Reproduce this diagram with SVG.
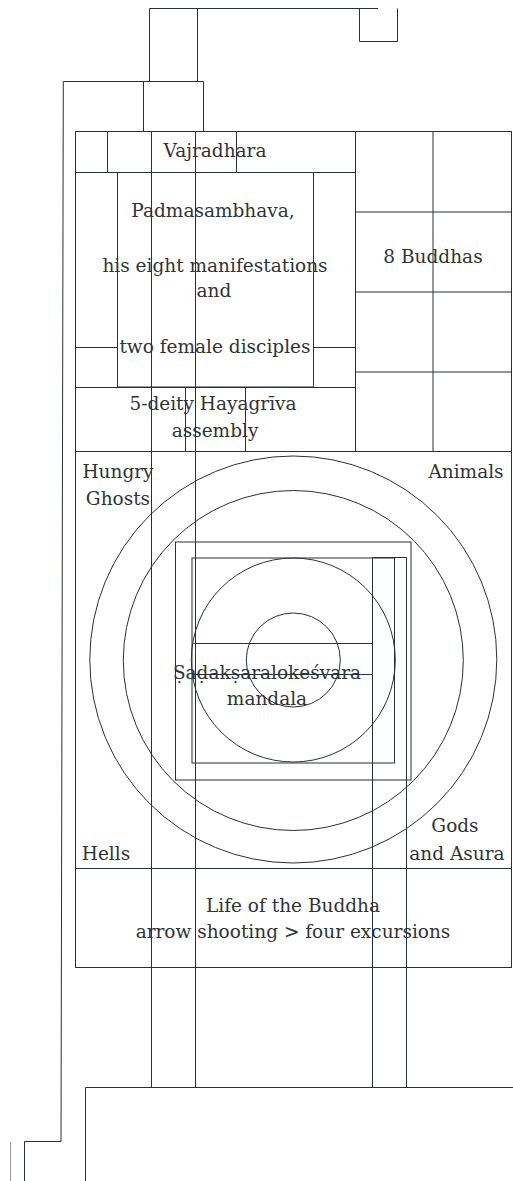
<svg xmlns="http://www.w3.org/2000/svg" width="513" height="1181" viewBox="0 0 513 1181">
<style>
.l{fill:none;stroke:#2a3136;stroke-width:1}
.t{font-family:"DejaVu Serif","Liberation Serif",serif;font-size:18.5px;fill:#2f3336;text-anchor:middle}
</style>
<rect width="513" height="1181" fill="#fff"/>
<g id="frame" class="l">
<path d="M149.5,81V8.5H378"/>
<path d="M197.5,8.5V81"/>
<path d="M359.5,8.5V41.5H397.5V8.5"/>
<path d="M63.3,81.5L61,1141.5H24.5V1181"/>
<path d="M10.5,1142V1181" stroke="#999"/>
<path d="M63.5,81.5H203.5V131.5"/>
<path d="M143.5,81.5V131.5"/>
<path d="M85.5,1181V1087.5H513"/>
<path d="M151.5,131V1087.5"/>
<path d="M195.5,131V1087.5"/>
<path d="M372.5,557.5H406.5V1087.5M372.5,557.5V1087.5"/>
</g>
<g id="main" class="l">
<rect x="75.5" y="131.5" width="436" height="836"/>
</g>
<g id="vajradhara">
<path class="l" d="M75.5,172.5H355.5M107.5,131.5V172.5M236.5,131.5V172.5"/>
<text class="t" x="215" y="157">Vajradhara</text>
</g>
<g id="padmasambhava">
<rect class="l" x="117.5" y="172.5" width="196" height="214.5"/>
<path class="l" d="M75.5,347.5H117.5M313.5,347.5H355.5"/>
<text class="t" x="213" y="217">Padmasambhava,</text>
<text class="t" x="215" y="272">his eight manifestations</text>
<text class="t" x="214" y="297">and</text>
<text class="t" x="215" y="353">two female disciples</text>
</g>
<g id="hayagriva">
<path class="l" d="M75.5,387.5H355.5M185.5,387.5V451.5M245.5,387.5V451.5M75.5,451.5H511.5"/>
<text class="t" x="213" y="410">5-deity Hayagrīva</text>
<text class="t" x="215" y="437">assembly</text>
</g>
<g id="buddhas">
<path class="l" d="M355.5,131.5V451.5M433,131.5V451.5M355.5,212H511.5M355.5,292H511.5M355.5,372H511.5"/>
<text class="t" x="433" y="263">8 Buddhas</text>
</g>
<g id="realms">
<text class="t" x="118" y="478">Hungry</text>
<text class="t" x="118" y="505">Ghosts</text>
<text class="t" x="466" y="478">Animals</text>
<text class="t" x="106" y="860">Hells</text>
<text class="t" x="455" y="832">Gods</text>
<text class="t" x="457" y="860">and Asura</text>
</g>
<g id="mandala" class="l">
<circle cx="293.3" cy="659.5" r="203.5"/>
<circle cx="293.3" cy="660.5" r="170"/>
<circle cx="293.3" cy="660" r="102"/>
<circle cx="293.3" cy="660" r="47"/>
<rect x="175.5" y="542" width="235.5" height="238"/>
<rect x="192" y="558" width="202.5" height="205"/>
<path d="M193.5,643.5H372.5M193.5,674.5H372.5"/>
</g>
<g id="mandala-label">
<text class="t" x="267" y="679">Ṣaḍakṣaralokeśvara</text>
<text class="t" x="267" y="705">mandala</text>
</g>
<g id="life">
<path class="l" d="M75.5,868.5H511.5"/>
<text class="t" x="293" y="912">Life of the Buddha</text>
<text class="t" x="293" y="938">arrow shooting &gt; four excursions</text>
</g>
</svg>
